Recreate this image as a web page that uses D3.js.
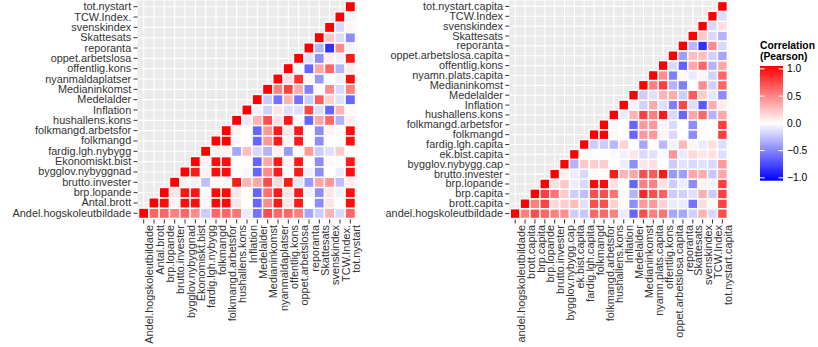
<!DOCTYPE html>
<html>
<head>
<meta charset="utf-8">
<script src="https://cdnjs.cloudflare.com/ajax/libs/d3/7.8.5/d3.min.js"></script>
<style>
  body { margin: 0; background: #fff; }
  svg { display: block; font-family: "Liberation Sans", Arial, sans-serif; }
</style>
</head>
<body>
<svg id="chart" width="818" height="347"></svg>
<script>
// variables, bottom row -> top row (same order along x)
const varsLeft = ["Andel.hogskoleutbildade", "Antal.brott", "brp.lopande", "brutto.invester",
  "bygglov.nybyggnad", "Ekonomiskt.bist", "fardig.lgh.nybygg", "folkmangd", "folkmangd.arbetsfor",
  "hushallens.kons", "Inflation", "Medelalder", "Medianinkomst", "nyanmaldaplatser",
  "offentlig.kons", "oppet.arbetslosa", "reporanta", "Skattesats", "svenskindex", "TCW.Index.",
  "tot.nystart"];

// row r holds cor(r, c) for c = r .. end
const corLeft = [
  [1, 0.6, 0.6, 0.5, 0.6, 0.45, -0.2, 0.6, 0.6, 0.55, -0.08, -0.55, 0.7, 0.6, 0.6, 0.5, -0.35, -0.2, 0.3, -0.15, 0.6],
  [1, 0.95, 0.05, 0.95, 0.95, 0.03, 0.97, 0.97, 0.1, 0.0, -0.6, 0.45, 0.9, 0.1, 0.9, 0.0, -0.45, 0.1, 0.0, 0.95],
  [1, 0.1, 0.92, 0.92, 0.02, 0.97, 0.97, 0.1, 0.0, -0.6, 0.55, 0.9, 0.1, 0.9, -0.05, -0.45, 0.1, -0.05, 0.95],
  [1, 0.05, -0.05, -0.25, 0.02, 0.02, 0.9, 0.3, 0.35, 0.7, 0.15, 0.9, -0.1, -0.4, 0.35, 0.4, -0.25, 0.08],
  [1, 0.9, 0.05, 0.95, 0.95, 0.0, -0.03, -0.6, 0.45, 0.9, 0.02, 0.9, -0.05, -0.45, 0.0, -0.07, 0.95],
  [1, 0.05, 0.95, 0.95, 0.0, 0.0, -0.6, 0.35, 0.9, 0.02, 0.9, 0.0, -0.45, 0.03, 0.0, 0.9],
  [1, 0.05, 0.05, -0.35, 0.25, -0.15, -0.3, 0.05, -0.4, 0.0, 0.4, -0.2, -0.12, 0.2, 0.0],
  [1, 1.0, 0.03, 0.0, -0.6, 0.4, 0.9, 0.03, 0.9, 0.0, -0.45, 0.0, 0.0, 0.95],
  [1, 0.05, 0.0, -0.6, 0.4, 0.9, 0.08, 0.9, 0.0, -0.45, 0.05, 0.0, 0.95],
  [1, -0.08, 0.3, 0.7, 0.12, 0.9, 0.0, -0.6, 0.35, 0.6, -0.3, 0.07],
  [1, -0.05, -0.18, 0.1, -0.13, -0.13, 0.72, -0.13, -0.6, 0.3, 0.02],
  [1, -0.2, -0.55, 0.3, -0.55, -0.2, 0.65, 0.18, -0.12, -0.6],
  [1, 0.5, 0.75, 0.33, -0.5, -0.02, 0.45, -0.15, 0.5],
  [1, 0.12, 0.8, 0.03, -0.4, 0.0, -0.05, 0.95],
  [1, 0.0, -0.6, 0.35, 0.6, -0.3, 0.07],
  [1, -0.12, -0.45, 0.07, -0.05, 0.9],
  [1, -0.28, -0.8, 0.45, -0.04],
  [1, 0.22, -0.13, -0.45],
  [1, -0.15, 0.04],
  [1, -0.04],
  [1]
];

const varsRight = ["andel.hogskoleutbildade", "brott.capita", "brp.capita", "brp.lopande",
  "brutto.invester", "bygglov.nybygg.cap", "ek.bist.capita", "fardig.lgh.capita", "folkmangd",
  "folkmangd.arbetsfor", "hushallens.kons", "Inflation", "Medelalder", "Medianinkomst",
  "nyamn.plats.capita", "offentlig.kons", "oppet.arbetslosa.capita", "reporanta", "Skattesats",
  "svenskindex", "TCW.Index", "tot.nystart.capita"];

const corRight = [
  [1, 0.5, 0.7, 0.6, 0.5, 0.45, -0.2, -0.22, 0.6, 0.6, 0.5, -0.08, -0.6, 0.7, 0.5, 0.55, -0.35, -0.35, -0.18, 0.3, -0.15, 0.7],
  [1, 0.5, 0.75, 0.15, 0.2, 0.27, -0.12, 0.7, 0.7, 0.18, 0.02, -0.45, 0.4, 0.4, 0.18, -0.08, -0.08, -0.55, 0.13, 0.02, 0.75],
  [1, 0.75, 0.55, 0.2, -0.2, -0.25, 0.7, 0.7, 0.55, 0.02, -0.3, 0.85, 0.7, 0.62, -0.2, -0.18, -0.12, 0.32, -0.2, 0.75],
  [1, 0.12, 0.22, -0.07, -0.15, 0.97, 0.97, 0.12, 0.0, -0.6, 0.5, 0.5, 0.12, -0.2, -0.07, -0.45, 0.05, -0.05, 0.75],
  [1, 0.06, -0.07, -0.15, 0.02, 0.02, 0.9, 0.3, 0.35, 0.7, 0.65, 0.9, -0.4, -0.38, 0.35, 0.33, -0.22, 0.35],
  [1, -0.3, 0.22, 0.2, 0.2, 0.0, -0.07, -0.45, 0.1, 0.12, 0.0, -0.2, -0.12, -0.15, -0.12, -0.15, 0.4],
  [1, 0.01, 0.01, 0.01, -0.02, -0.05, 0.1, -0.15, -0.12, -0.03, 0.42, -0.08, 0.15, 0.1, 0.12, -0.13],
  [1, -0.2, -0.2, -0.28, 0.18, 0.0, -0.35, 0.0, -0.28, -0.06, 0.28, 0.04, -0.08, 0.13, -0.13],
  [1, 1.0, 0.03, 0.0, -0.6, 0.4, 0.4, 0.03, -0.15, 0.0, -0.45, 0.0, 0.01, 0.75],
  [1, 0.03, 0.0, -0.6, 0.4, 0.4, 0.05, -0.15, 0.0, -0.45, 0.02, 0.0, 0.75],
  [1, -0.08, 0.3, 0.75, 0.5, 0.9, -0.15, -0.6, 0.35, 0.6, -0.3, 0.35],
  [1, -0.05, -0.18, 0.33, -0.13, -0.5, 0.72, -0.13, -0.65, 0.32, 0.07],
  [1, -0.2, -0.12, 0.3, 0.33, -0.2, 0.65, 0.2, -0.1, -0.45],
  [1, 0.5, 0.75, -0.3, -0.5, 0.0, 0.45, -0.18, 0.6],
  [1, 0.45, -0.5, 0.03, -0.08, 0.04, -0.18, 0.6],
  [1, -0.15, -0.62, 0.35, 0.6, -0.3, 0.35],
  [1, -0.38, 0.25, 0.25, -0.18, -0.35],
  [1, -0.28, -0.8, 0.45, -0.15],
  [1, 0.22, -0.15, -0.3],
  [1, -0.15, 0.12],
  [1, -0.13],
  [1]
];

const legendTicks = [1, 0.5, 0, -0.5, -1];
const legendTitle = ["Correlation", "(Pearson)"];

const svg = d3.select("#chart");

// blue - white - red, plain rgb blend
const color = d3.scaleLinear()
  .domain([-1, 0, 1])
  .range(["blue", "white", "red"])
  .interpolate(d3.interpolateRgb);

function toCells(vars, rows) {
  const cells = [];
  rows.forEach((vals, r) => {
    vals.forEach((v, k) => {
      cells.push({ row: vars[r], col: vars[r + k], value: v });
    });
  });
  return cells;
}

function drawPanel(vars, rows, box) {
  const g = svg.append("g");

  const x = d3.scaleBand().domain(vars).range([box.x0, box.x1]).paddingOuter(0.1);
  const y = d3.scaleBand().domain(vars).range([box.y1, box.y0]).paddingOuter(0.1);
  const bw = x.bandwidth(), bh = y.bandwidth();

  g.append("rect")
    .attr("x", box.x0).attr("y", box.y0)
    .attr("width", box.x1 - box.x0).attr("height", box.y1 - box.y0)
    .attr("fill", "#EBEBEB");

  // major grid through category centres
  g.selectAll(".gx").data(vars).join("line")
    .attr("x1", d => x(d) + bw / 2).attr("x2", d => x(d) + bw / 2)
    .attr("y1", box.y0).attr("y2", box.y1)
    .attr("stroke", "#fff").attr("stroke-width", 1.1);
  g.selectAll(".gy").data(vars).join("line")
    .attr("y1", d => y(d) + bh / 2).attr("y2", d => y(d) + bh / 2)
    .attr("x1", box.x0).attr("x2", box.x1)
    .attr("stroke", "#fff").attr("stroke-width", 1.1);

  g.selectAll(".tile").data(toCells(vars, rows)).join("rect")
    .attr("x", d => x(d.col)).attr("y", d => y(d.row))
    .attr("width", bw).attr("height", bh)
    .attr("fill", d => color(d.value))
    .attr("stroke", "#fff").attr("stroke-width", 1.4);

  const yAxis = g.append("g")
    .attr("transform", `translate(${box.x0},0)`)
    .call(d3.axisLeft(y).tickSize(4).tickPadding(2.3));
  const xAxis = g.append("g")
    .attr("transform", `translate(0,${box.y1})`)
    .call(d3.axisBottom(x).tickSize(4));

  [xAxis, yAxis].forEach(a => {
    a.select(".domain").remove();
    a.selectAll(".tick line").attr("stroke", "#333").attr("stroke-width", 1);
    a.selectAll(".tick text")
      .attr("fill", "#333")
      .style("font-size", "10.9px")
      .style("font-family", "'Liberation Sans', Arial, sans-serif");
  });

  xAxis.selectAll(".tick text")
    .attr("transform", "rotate(-90)")
    .attr("text-anchor", "end")
    .attr("x", -5.5)
    .attr("y", 0)
    .attr("dy", "0.88em");
}

drawPanel(varsLeft, corLeft, { x0: 137.5, x1: 356.5, y0: 0.5, y1: 219.5 });
drawPanel(varsRight, corRight, { x0: 509.3, x1: 728.3, y0: 0.5, y1: 219.5 });

// ---- colourbar legend ----
const bar = { x: 760, y0: 66, y1: 180.7, w: 23 };
const inset = (bar.y1 - bar.y0) * 0.5 / 20;
const ly = d3.scaleLinear().domain([1, -1]).range([bar.y0 + inset, bar.y1 - inset]);

const defs = svg.append("defs");
const grad = defs.append("linearGradient")
  .attr("id", "corgrad")
  .attr("x1", 0).attr("y1", 0).attr("x2", 0).attr("y2", 1);
d3.range(0, 41).forEach(i => {
  const t = i / 40;
  const v = 1 - 2 * t;
  grad.append("stop").attr("offset", t).attr("stop-color", color(v));
});

const leg = svg.append("g");
leg.append("text")
  .selectAll("tspan").data(legendTitle).join("tspan")
  .attr("x", bar.x)
  .attr("y", (d, i) => 49 + i * 11)
  .text(d => d);
leg.select("text")
  .attr("font-weight", "bold")
  .style("font-size", "10.3px")
  .attr("fill", "#000");

leg.append("rect")
  .attr("x", bar.x).attr("y", bar.y0)
  .attr("width", bar.w).attr("height", bar.y1 - bar.y0)
  .attr("fill", "url(#corgrad)");

leg.selectAll(".tl").data(legendTicks).join("line")
  .attr("x1", bar.x).attr("x2", bar.x + bar.w / 5)
  .attr("y1", d => ly(d)).attr("y2", d => ly(d))
  .attr("stroke", "#fff").attr("stroke-width", 1);
leg.selectAll(".tr").data(legendTicks).join("line")
  .attr("x1", bar.x + bar.w * 4 / 5).attr("x2", bar.x + bar.w)
  .attr("y1", d => ly(d)).attr("y2", d => ly(d))
  .attr("stroke", "#fff").attr("stroke-width", 1);

leg.selectAll(".lab").data(legendTicks).join("text")
  .attr("x", bar.x + bar.w + 4)
  .attr("y", d => ly(d))
  .attr("dy", "0.35em")
  .style("font-size", "10.3px")
  .attr("fill", "#000")
  .text(d => d3.format(".1f")(d));
</script>
</body>
</html>
